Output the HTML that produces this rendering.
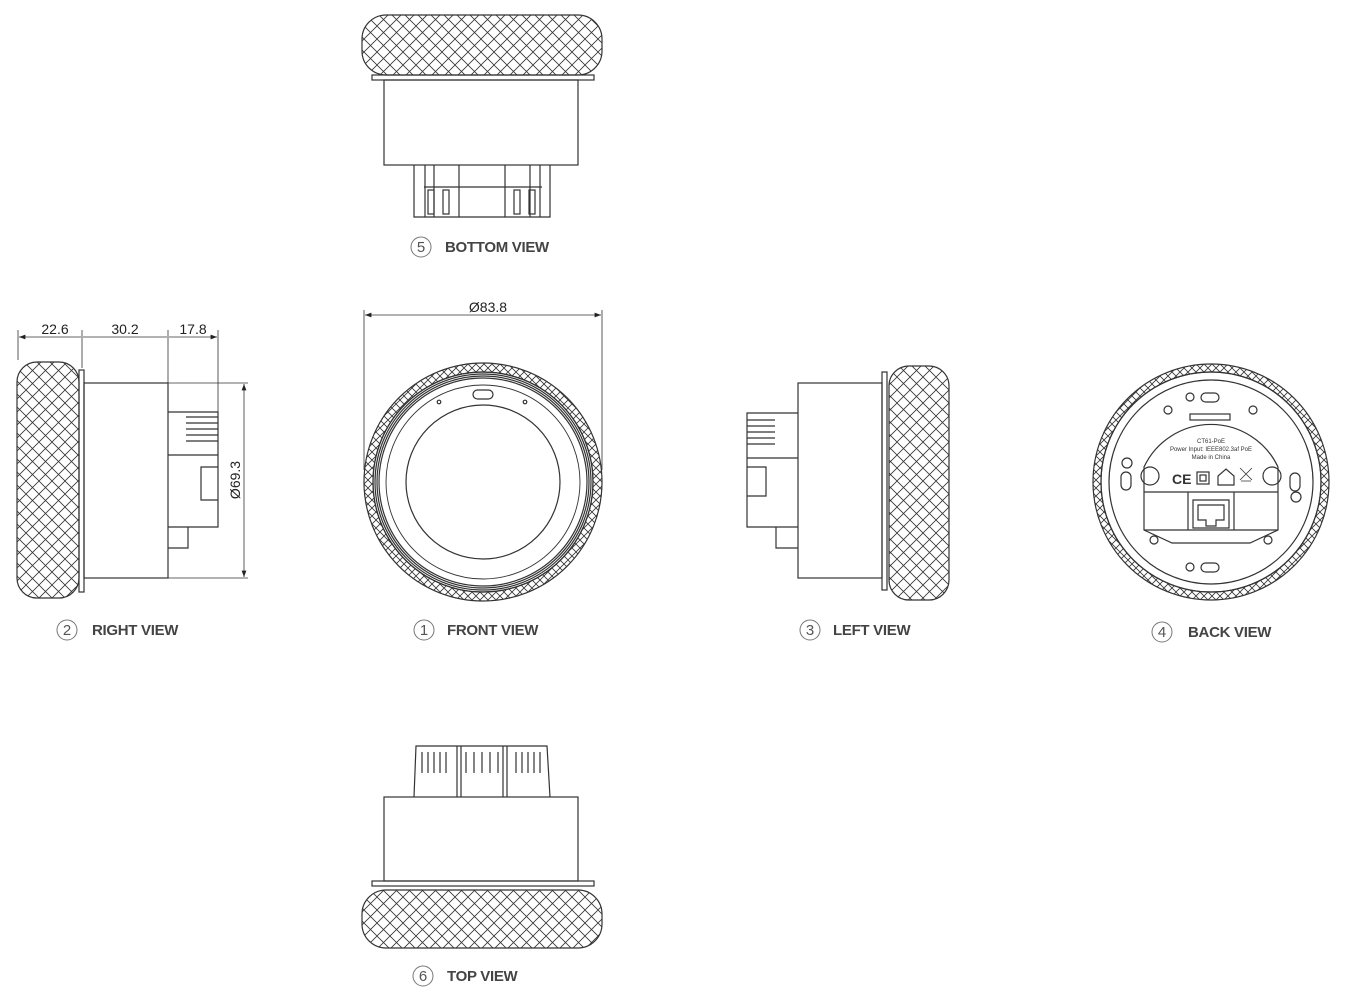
<!DOCTYPE html>
<html><head><meta charset="utf-8"><style>
html,body{margin:0;padding:0;background:#fff}
svg{display:block}
text{font-family:"Liberation Sans",sans-serif;fill:#333}
.lbl{font-weight:bold;font-size:15px;fill:#444;letter-spacing:-0.3px}
.num{font-size:15px;fill:#555}
.dim{font-size:14px;fill:#222}
</style></head><body>
<svg width="1346" height="999" viewBox="0 0 1346 999" xmlns="http://www.w3.org/2000/svg">
<defs>
<pattern id="kn" patternUnits="userSpaceOnUse" width="13" height="13">
<path d="M0 0L13 13M13 0L0 13M-6.5 6.5L6.5 19.5M6.5 -6.5L19.5 6.5M-6.5 6.5L6.5 -6.5M6.5 19.5L19.5 6.5" stroke="#333" stroke-width="0.8" fill="none"/>
</pattern>
<pattern id="kn2" patternUnits="userSpaceOnUse" width="8" height="8">
<path d="M0 0L8 8M8 0L0 8" stroke="#333" stroke-width="0.8" fill="none"/>
</pattern>
<marker id="ar" markerWidth="8" markerHeight="6" refX="8" refY="3" orient="auto-start-reverse"><path d="M0 0L8 3L0 6z" fill="#222"/></marker>
</defs>
<g fill="none" stroke="#333" stroke-width="1.2">

<!-- BOTTOM VIEW -->
<rect x="362" y="15" width="240" height="60" rx="24" fill="url(#kn)"/>
<rect x="372" y="75" width="222" height="5"/>
<rect x="384" y="80" width="194" height="85"/>
<path d="M414 165V217H550V165M425 165V217M434 165V217M459 165V217M505 165V217M530 165V217M540 165V217M424 187H542"/>
<rect x="428" y="190" width="6" height="24"/><rect x="443" y="190" width="6" height="24"/><rect x="514" y="190" width="6" height="24"/><rect x="529" y="190" width="6" height="24"/>

<!-- TOP VIEW -->
<rect x="362" y="890" width="240" height="58" rx="24" fill="url(#kn)"/>
<rect x="372" y="881" width="222" height="5"/>
<rect x="384" y="797" width="194" height="84"/>
<path d="M414 797L416 746H547L550 797M457 746V797M461 746V797M503 746V797M507 746V797"/>
<path d="M422 752V773M428 752V773M434 752V773M440 752V773M446 752V773M466 752V773M474 752V773M482 752V773M490 752V773M498 752V773M516 752V773M522 752V773M528 752V773M534 752V773M540 752V773"/>

<!-- RIGHT VIEW -->
<rect x="17" y="362" width="62" height="236" rx="20" fill="url(#kn)"/>
<rect x="79" y="370" width="5" height="222"/>
<rect x="84" y="383" width="84" height="195"/>
<path d="M168 412H218V527H168M168 455H218M188 527V548H168M201 467H218V500H201z"/>
<path d="M186 417H218M186 423H218M186 429H218M186 435H218M186 441H218"/>
<path d="M18 360V330M82 368V330M168 383V330M218 412V330M168 383H248M168 578H248" stroke-width="0.8"/>
<path d="M19 337H81M83 337H167M169 337H217" stroke-width="0.8" marker-start="url(#ar)" marker-end="url(#ar)"/>
<path d="M244 384V577" stroke-width="0.8" marker-start="url(#ar)" marker-end="url(#ar)"/>

<!-- FRONT VIEW -->
<circle cx="483" cy="482" r="119" fill="url(#kn2)"/>
<circle cx="483" cy="482" r="110" fill="#fff"/>
<circle cx="483" cy="482" r="110"/>
<circle cx="483" cy="482" r="108"/>
<circle cx="483" cy="482" r="106"/>
<circle cx="483" cy="482" r="104"/>
<circle cx="483" cy="482" r="97" stroke-width="0.9"/>
<circle cx="483" cy="482" r="77"/>
<rect x="473" y="390" width="20" height="9" rx="4.5"/>
<circle cx="439" cy="402" r="1.8"/><circle cx="525" cy="402" r="1.8"/>
<path d="M364 310V470M602 310V470" stroke-width="0.8"/>
<path d="M365 315H601" stroke-width="0.8" marker-start="url(#ar)" marker-end="url(#ar)"/>

<!-- LEFT VIEW -->
<rect x="889" y="366" width="60" height="234" rx="20" fill="url(#kn)"/>
<rect x="882" y="372" width="5" height="218"/>
<rect x="798" y="383" width="84" height="195"/>
<path d="M798 413H747V527H798M747 458H798M776 527V548H798M747 467H766V496H747z"/>
<path d="M747 420H775M747 426H775M747 432H775M747 438H775M747 444H775"/>

<!-- BACK VIEW -->
<circle cx="1211" cy="482" r="118" fill="url(#kn2)"/>
<circle cx="1211" cy="482" r="110" fill="#fff"/>
<circle cx="1211" cy="482" r="110"/>
<circle cx="1211" cy="482" r="102"/>
<path d="M1144 530V467A74 74 0 0 1 1278 467V530L1250 543H1172z"/>
<path d="M1144 492H1278M1144 530H1278M1188 492V530M1234 492V530"/>
<path d="M1193 500H1229V528H1193z M1198 505H1224V520H1216V526H1206V520H1198z"/>
<rect x="1190" y="414" width="40" height="6"/>
<circle cx="1168" cy="410" r="4"/><circle cx="1253" cy="410" r="4"/>
<circle cx="1154" cy="540" r="4"/><circle cx="1268" cy="540" r="4"/>
<circle cx="1127" cy="463" r="5"/><circle cx="1296" cy="497" r="5"/>
<rect x="1121" y="472" width="10" height="18" rx="5"/><rect x="1290" y="473" width="10" height="18" rx="5"/>
<rect x="1201" y="393" width="18" height="9" rx="4.5"/><rect x="1201" y="563" width="18" height="9" rx="4.5"/>
<circle cx="1190" cy="397" r="4"/><circle cx="1190" cy="567" r="4"/>
<circle cx="1150" cy="476" r="9"/><circle cx="1272" cy="476" r="9"/>
<rect x="1197" y="472" width="12" height="12"/><rect x="1200" y="475" width="6" height="6"/>
<path d="M1218 485V476L1226 469L1234 476V485z"/>
<path d="M1241 481H1251M1240 468L1252 480M1252 468L1240 480" stroke-width="0.8"/>

<circle cx="421" cy="247" r="10" stroke="#777" stroke-width="1"/>
<circle cx="67" cy="630" r="10" stroke="#777" stroke-width="1"/>
<circle cx="424" cy="630" r="10" stroke="#777" stroke-width="1"/>
<circle cx="810" cy="630" r="10" stroke="#777" stroke-width="1"/>
<circle cx="1162" cy="632" r="10" stroke="#777" stroke-width="1"/>
<circle cx="423" cy="976" r="10" stroke="#777" stroke-width="1"/>
</g>

<text class="num" x="421" y="252" text-anchor="middle">5</text><text class="lbl" x="445" y="252">BOTTOM VIEW</text>
<text class="num" x="67" y="635" text-anchor="middle">2</text><text class="lbl" x="92" y="635">RIGHT VIEW</text>
<text class="num" x="424" y="635" text-anchor="middle">1</text><text class="lbl" x="447" y="635">FRONT VIEW</text>
<text class="num" x="810" y="635" text-anchor="middle">3</text><text class="lbl" x="833" y="635">LEFT VIEW</text>
<text class="num" x="1162" y="637" text-anchor="middle">4</text><text class="lbl" x="1188" y="637">BACK VIEW</text>
<text class="num" x="423" y="981" text-anchor="middle">6</text><text class="lbl" x="447" y="981">TOP VIEW</text>

<text class="dim" x="55" y="334" text-anchor="middle">22.6</text>
<text class="dim" x="125" y="334" text-anchor="middle">30.2</text>
<text class="dim" x="193" y="334" text-anchor="middle">17.8</text>
<text class="dim" x="488" y="312" text-anchor="middle">Ø83.8</text>
<text class="dim" transform="translate(240,480) rotate(-90)" text-anchor="middle">Ø69.3</text>

<text x="1211" y="443" text-anchor="middle" style="font-size:6px">CT61-PoE</text>
<text x="1211" y="451" text-anchor="middle" style="font-size:6px">Power Input: IEEE802.3af PoE</text>
<text x="1211" y="459" text-anchor="middle" style="font-size:6px">Made in China</text>
<text x="1172" y="484" style="font-size:14px;font-weight:bold">CE</text>
</svg>
</body></html>
